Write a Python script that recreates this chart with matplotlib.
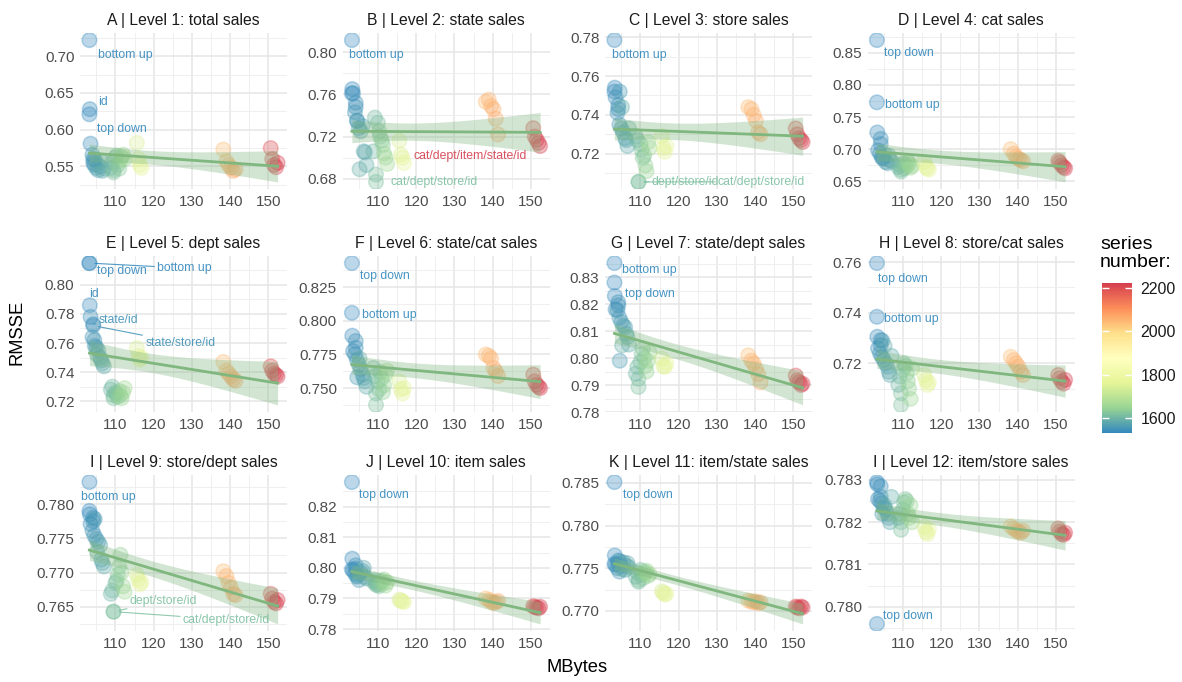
import numpy as np
import matplotlib
matplotlib.use("Agg")
import matplotlib.pyplot as plt
from matplotlib.colors import LinearSegmentedColormap, Normalize
from matplotlib.cm import ScalarMappable

plt.rcParams["font.family"] = ["Liberation Sans", "DejaVu Sans"]

# --- data -------------------------------------------------------------------
# one entry per model: 16 blue, 12 green, 4 yellow, 6 orange, 5 red
MBYTES = [
    103.2, 103.2, 103.3, 104.2, 104.2, 103.5, 104.0, 104.5, 105.0, 105.5, 106.0, 106.3, 106.6, 107.0, 105.2, 104.6,
    109.5, 109.5, 108.8, 109.2, 110.0, 110.3, 110.6, 111.0, 111.3, 111.6, 112.0, 112.4,
    115.6, 116.0, 116.4, 116.8,
    138.2, 139.0, 139.6, 140.2, 140.8, 141.4,
    150.6, 151.0, 151.5, 152.0, 152.4,
]
SERIES = [
    1531, 1531, 1535, 1545, 1545, 1540, 1550, 1555, 1560, 1565, 1570, 1575, 1580, 1585, 1590, 1560,
    1615, 1615, 1600, 1605, 1610, 1620, 1625, 1630, 1640, 1645, 1650, 1660,
    1740, 1750, 1760, 1770,
    2040, 2050, 2055, 2060, 2065, 2070,
    2200, 2205, 2210, 2215, 2223,
]

RMSSE_A = [
    0.722, 0.621, 0.628, 0.560, 0.555, 0.581, 0.566, 0.552, 0.548, 0.545, 0.550, 0.557, 0.544, 0.547, 0.553, 0.560,
    0.545, 0.542, 0.548, 0.556, 0.562, 0.565, 0.552, 0.547, 0.558, 0.563, 0.566, 0.560,
    0.582, 0.560, 0.552, 0.548,
    0.573, 0.557, 0.552, 0.548, 0.544, 0.546,
    0.575, 0.560, 0.552, 0.549, 0.555,
]
RMSSE_B = [
    0.8115, 0.761, 0.765, 0.748, 0.752, 0.761, 0.743, 0.735, 0.728, 0.725, 0.730, 0.706, 0.705, 0.693, 0.689, 0.735,
    0.677, 0.684, 0.706, 0.738, 0.733, 0.725, 0.720, 0.716, 0.712, 0.704, 0.700, 0.694,
    0.716, 0.703, 0.700, 0.695,
    0.753, 0.755, 0.749, 0.746, 0.737, 0.722,
    0.728, 0.720, 0.717, 0.714, 0.711,
]
RMSSE_C = [
    0.7785, 0.752, 0.754, 0.745, 0.743, 0.749, 0.741, 0.735, 0.733, 0.731, 0.728, 0.727, 0.724, 0.733, 0.744, 0.752,
    0.7055, 0.7055, 0.729, 0.727, 0.725, 0.722, 0.718, 0.719, 0.714, 0.711, 0.726, 0.723,
    0.729, 0.723, 0.721, 0.724,
    0.744, 0.743, 0.740, 0.737, 0.731, 0.730,
    0.733, 0.730, 0.728, 0.727, 0.726,
]
RMSSE_D = [
    0.773, 0.870, 0.726, 0.716, 0.708, 0.698, 0.693, 0.688, 0.685, 0.680, 0.678, 0.690, 0.683, 0.681, 0.692, 0.686,
    0.668, 0.665, 0.672, 0.675, 0.678, 0.670, 0.676, 0.673, 0.680, 0.677, 0.671, 0.674,
    0.680, 0.672, 0.670, 0.668,
    0.700, 0.693, 0.688, 0.685, 0.683, 0.681,
    0.682, 0.679, 0.675, 0.672, 0.670,
]
RMSSE_E = [
    0.815, 0.815, 0.786, 0.773, 0.772, 0.778, 0.764, 0.762, 0.757, 0.755, 0.750, 0.748, 0.746, 0.744, 0.752, 0.758,
    0.724, 0.722, 0.728, 0.730, 0.726, 0.725, 0.723, 0.727, 0.724, 0.722, 0.726, 0.729,
    0.7565, 0.751, 0.7485, 0.750,
    0.747, 0.741, 0.739, 0.737, 0.735, 0.734,
    0.744, 0.741, 0.739, 0.738, 0.737,
]
RMSSE_F = [
    0.806, 0.843, 0.789, 0.785, 0.780, 0.7775, 0.775, 0.771, 0.7675, 0.764, 0.760, 0.7575, 0.755, 0.751, 0.772, 0.758,
    0.7375, 0.746, 0.765, 0.759, 0.755, 0.749, 0.762, 0.757, 0.747, 0.752, 0.760, 0.763,
    0.755, 0.749, 0.746, 0.750,
    0.775, 0.774, 0.772, 0.765, 0.7625, 0.759,
    0.760, 0.755, 0.7525, 0.751, 0.750,
]
RMSSE_G = [
    0.8352, 0.828, 0.823, 0.8207, 0.8195, 0.818, 0.8177, 0.815, 0.8133, 0.812, 0.8115, 0.809, 0.8078, 0.805, 0.8047, 0.799,
    0.7893, 0.7923, 0.7942, 0.7967, 0.7985, 0.8015, 0.8035, 0.800, 0.797, 0.795, 0.799, 0.802,
    0.7998, 0.797, 0.7967, 0.798,
    0.801, 0.799, 0.798, 0.796, 0.794, 0.791,
    0.7935, 0.7917, 0.791, 0.790, 0.7905,
]
RMSSE_H = [
    0.7384, 0.7596, 0.7305, 0.7292, 0.7272, 0.7259, 0.7239, 0.7226, 0.7213, 0.7200, 0.7187, 0.7167, 0.7154, 0.7230, 0.7270, 0.7290,
    0.7036, 0.7082, 0.7115, 0.7148, 0.7174, 0.7200, 0.7190, 0.7160, 0.7130, 0.7100, 0.7060, 0.7180,
    0.7154, 0.7134, 0.7115, 0.7125,
    0.7226, 0.7213, 0.7200, 0.7187, 0.7167, 0.7154,
    0.7154, 0.7141, 0.7128, 0.7120, 0.7135,
]
RMSSE_I = [
    0.7832, 0.7790, 0.7785, 0.7780, 0.7775, 0.7771, 0.7761, 0.7754, 0.7749, 0.7745, 0.7740, 0.7719, 0.7714, 0.7709, 0.7730, 0.7778,
    0.7643, 0.7643, 0.7669, 0.7674, 0.7685, 0.7688, 0.7697, 0.7709, 0.7726, 0.7700, 0.7680, 0.7672,
    0.7697, 0.7690, 0.7683, 0.7686,
    0.7702, 0.7695, 0.7685, 0.7678, 0.7669, 0.7667,
    0.7669, 0.7662, 0.7657, 0.7655, 0.7660,
]
RMSSE_J = [
    0.7995, 0.8280, 0.8030, 0.8008, 0.7997, 0.7992, 0.7981, 0.7971, 0.7960, 0.7985, 0.7990, 0.8000, 0.7970, 0.7965, 0.7980, 0.7975,
    0.7944, 0.7950, 0.7955, 0.7960, 0.7945, 0.7940, 0.7952, 0.7958, 0.7948, 0.7962, 0.7942, 0.7953,
    0.7896, 0.7893, 0.7890, 0.7888,
    0.7900, 0.7895, 0.7890, 0.7885, 0.7888, 0.7892,
    0.7875, 0.7872, 0.7870, 0.7868, 0.7873,
]
RMSSE_K = [
    0.7755, 0.7851, 0.7765, 0.7759, 0.7755, 0.7754, 0.7750, 0.7746, 0.7752, 0.7757, 0.7748, 0.7753, 0.7756, 0.7751, 0.7749, 0.7758,
    0.7736, 0.7734, 0.7740, 0.7745, 0.7748, 0.7742, 0.7738, 0.7746, 0.7744, 0.7747, 0.7741, 0.7743,
    0.7723, 0.7721, 0.7719, 0.7720,
    0.7712, 0.7711, 0.7710, 0.7711, 0.7709, 0.7710,
    0.7705, 0.7704, 0.7703, 0.7705, 0.7704,
]
RMSSE_L = [
    0.78295, 0.77959, 0.78290, 0.78285, 0.78260, 0.78255, 0.78250, 0.78245, 0.78235, 0.78230, 0.78220, 0.78210, 0.78200, 0.78260, 0.78240, 0.78220,
    0.78182, 0.78200, 0.78210, 0.78220, 0.78230, 0.78247, 0.78255, 0.78250, 0.78220, 0.78210, 0.78240, 0.78200,
    0.78189, 0.78177, 0.78172, 0.78183,
    0.78190, 0.78185, 0.78180, 0.78178, 0.78175, 0.78180,
    0.78185, 0.78178, 0.78172, 0.78170, 0.78175,
]

TITLES = [
    "A | Level 1: total sales", "B | Level 2: state sales", "C | Level 3: store sales", "D | Level 4: cat sales",
    "E | Level 5: dept sales", "F | Level 6: state/cat sales", "G | Level 7: state/dept sales", "H | Level 8: store/cat sales",
    "I | Level 9: store/dept sales", "J | Level 10: item sales", "K | Level 11: item/state sales", "I | Level 12: item/store sales",
]

Y_TICKS = [
    ["0.55", "0.60", "0.65", "0.70"],
    ["0.68", "0.72", "0.76", "0.80"],
    ["0.72", "0.74", "0.76", "0.78"],
    ["0.65", "0.70", "0.75", "0.80", "0.85"],
    ["0.72", "0.74", "0.76", "0.78", "0.80"],
    ["0.750", "0.775", "0.800", "0.825"],
    ["0.78", "0.79", "0.80", "0.81", "0.82", "0.83"],
    ["0.72", "0.74", "0.76"],
    ["0.765", "0.770", "0.775", "0.780"],
    ["0.78", "0.79", "0.80", "0.81", "0.82"],
    ["0.770", "0.775", "0.780", "0.785"],
    ["0.780", "0.781", "0.782", "0.783"],
]
X_TICKS = [110, 120, 130, 140, 150]

# labelled models: (model index, text, label offset x px, offset y px, draw segment)
LABELS = [
    [(0, "bottom up", 36, -15, False), (2, "id", 13, 7, False), (1, "top down", 32, -15, False)],
    [(0, "bottom up", 24, -15, False), (16, "cat/dept/store/id", 58, 0, False),
     (42, "cat/dept/item/state/id", -70, -10, False)],
    [(0, "bottom up", 25, -15, False), (17, "dept/store/id", 47, 0, True), (16, "cat/dept/store/id", 123, 0, True)],
    [(1, "top down", 32, -13, False), (0, "bottom up", 35, -3, False)],
    [(1, "top down", 32, -8, False), (0, "bottom up", 95, -5, True), (2, "id", 4, 11, False),
     (3, "state/id", 25, 4, True), (4, "state/store/id", 87, -17, True)],
    [(1, "top down", 33, -13, False), (0, "bottom up", 37, -2, False)],
    [(0, "bottom up", 35, -7, False), (1, "top down", 35, -11, False)],
    [(1, "top down", 26, -16, False), (0, "bottom up", 34, -2, False)],
    [(0, "bottom up", 19, -15, False), (17, "dept/store/id", 50, 11, True), (16, "cat/dept/store/id", 113, -8, True)],
    [(1, "top down", 32, -13, False)],
    [(1, "top down", 33, -13, False)],
    [(1, "top down", 31, 8, False)],
]

PANELS = [RMSSE_A, RMSSE_B, RMSSE_C, RMSSE_D, RMSSE_E, RMSSE_F,
          RMSSE_G, RMSSE_H, RMSSE_I, RMSSE_J, RMSSE_K, RMSSE_L]

# --- styling ----------------------------------------------------------------
W, H = 1182, 682
COL_LEFT = [80, 342.5, 605, 867.5]
ROW_TOP = [33, 256, 475]
PW, PH = 207, 156
SMOOTH = "#7fb77e"
T975 = 2.02  # t quantile, df ~ 41

SPECTRAL = ["#3288BD", "#99D594", "#E6F598", "#FFFFBF", "#FEE08B", "#FC8D59", "#D53E4F"]
cmap = LinearSegmentedColormap.from_list("spectral_r", SPECTRAL)
norm = Normalize(vmin=min(SERIES), vmax=max(SERIES))


def lm_band(x, y, n=100):
    slope, icpt = np.polyfit(x, y, 1)
    xs = np.linspace(x.min(), x.max(), n)
    fit = icpt + slope * xs
    resid = y - (icpt + slope * x)
    s = np.sqrt(np.sum(resid ** 2) / (len(x) - 2))
    sxx = np.sum((x - x.mean()) ** 2)
    se = s * np.sqrt(1 / len(x) + (xs - x.mean()) ** 2 / sxx)
    return xs, fit, fit - T975 * se, fit + T975 * se


def draw_panel(ax, y, title, ticks, labels):
    x = np.array(MBYTES)
    y = np.array(y)
    ax.scatter(x, y, c=SERIES, cmap=cmap, norm=norm, s=110, alpha=0.33,
               edgecolors="face", linewidths=1.1, zorder=2)
    xs, fit, lo, hi = lm_band(x, y)
    ax.fill_between(xs, lo, hi, color=SMOOTH, alpha=0.35, lw=0, zorder=3)
    ax.plot(xs, fit, color=SMOOTH, lw=2, zorder=4)

    xpad = 0.05 * (x.max() - x.min())
    ax.set_xlim(x.min() - xpad, x.max() + xpad)
    ymin, ymax = min(y.min(), lo.min()), max(y.max(), hi.max())
    ypad = 0.05 * (ymax - ymin)
    ax.set_ylim(ymin - ypad, ymax + ypad)

    yt = [float(t) for t in ticks]
    step = yt[1] - yt[0]
    ax.set_yticks(yt, labels=ticks)
    minor_y = [v - step / 2 for v in yt] + [yt[-1] + step / 2]
    ax.set_yticks([v for v in minor_y if ymin - ypad < v < ymax + ypad], minor=True)
    ax.set_xticks(X_TICKS)
    ax.set_xticks([t - 5 for t in X_TICKS], minor=True)

    ax.grid(which="major", color="#e6e6e6", lw=1.1)
    ax.grid(which="minor", color="#ededed", lw=0.6)
    ax.set_axisbelow(True)
    for sp in ax.spines.values():
        sp.set_visible(False)
    ax.tick_params(which="both", length=0, labelsize=11, labelcolor="#4d4d4d", pad=4)
    ax.set_title(title, fontsize=11.3, color="#1a1a1a", pad=6)

    for idx, text, dx, dy, seg in labels:
        col = cmap(norm(SERIES[idx]))
        arrow = dict(arrowstyle="-", color=col, lw=0.8, alpha=0.85, shrinkA=0, shrinkB=4) if seg else None
        ax.annotate(text, (x[idx], y[idx]), xytext=(dx, dy), textcoords="offset pixels",
                    ha="center", va="center", fontsize=8.8, color=col, alpha=0.9,
                    arrowprops=arrow, zorder=6)


def main():
    fig = plt.figure(figsize=(W / 100, H / 100), dpi=100)
    for i, y in enumerate(PANELS):
        r, c = divmod(i, 4)
        ax = fig.add_axes([COL_LEFT[c] / W, 1 - (ROW_TOP[r] + PH) / H, PW / W, PH / H])
        draw_panel(ax, y, TITLES[i], Y_TICKS[i], LABELS[i])

    fig.text(17 / W, 1 - 332 / H, "RMSSE", rotation=90, ha="center", va="center", fontsize=13.2)
    fig.text(577 / W, 1 - 668 / H, "MBytes", ha="center", va="center", fontsize=13.2)

    cax = fig.add_axes([1102 / W, 1 - 433 / H, 30 / W, 150 / H])
    cb = fig.colorbar(ScalarMappable(norm=norm, cmap=cmap), cax=cax)
    cb.outline.set_visible(False)
    cb.set_ticks([1600, 1800, 2000, 2200])
    cax.tick_params(axis="y", direction="in", length=5, width=1, color="white",
                    left=True, right=True, labelleft=False, labelright=True,
                    labelsize=11.5, labelcolor="#1a1a1a", pad=6)
    fig.text(1100 / W, 1 - 236 / H, "series\nnumber:", ha="left", va="top", fontsize=14, linespacing=1.05)

    fig.savefig("out.png", dpi=100)


if __name__ == "__main__":
    main()
